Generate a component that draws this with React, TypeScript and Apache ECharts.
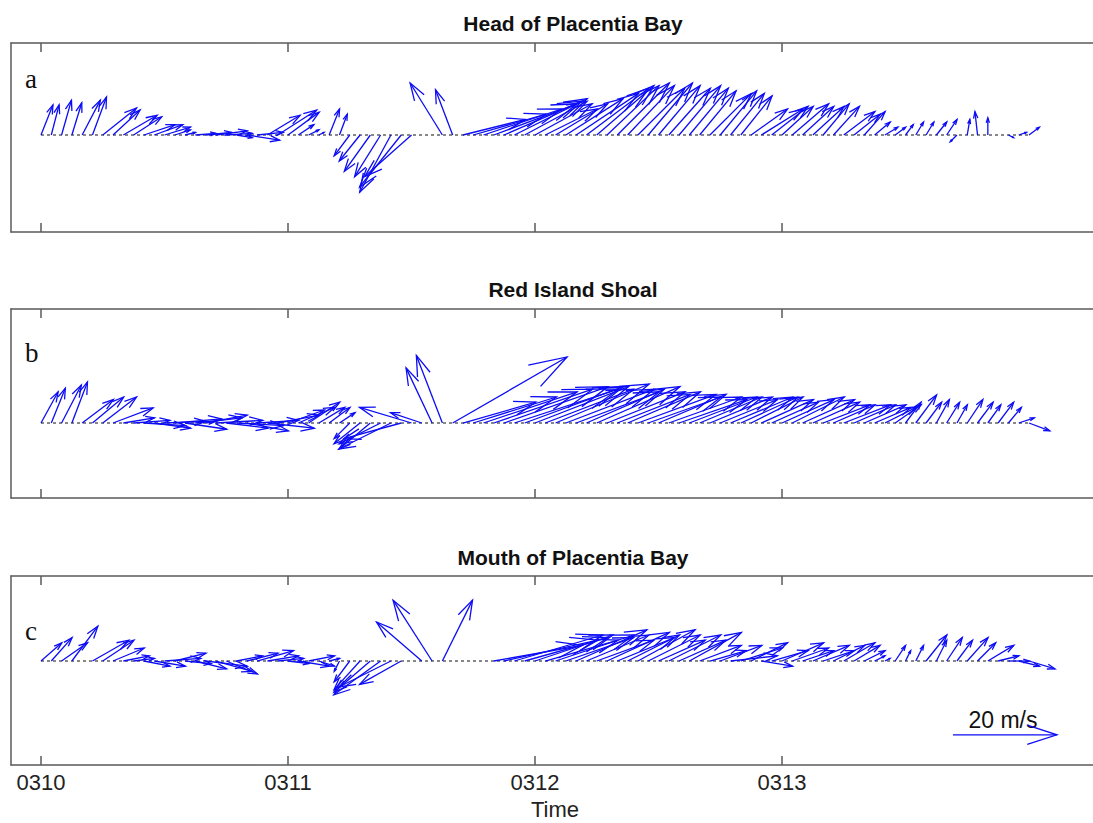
import React, { useEffect, useRef } from "react";
import * as echarts from "echarts";

// hourly samples from 0310 00:00 (hours since start)
const HOURS: number[] = Array.from({ length: 97 }, (_, i) => i);

// Panel a: Head of Placentia Bay (u east, v north, m/s)
const aU = [2.3, 1.5, 1.9, 1.9, 3.5, 2.7, 6.5, 5.2, 6.5, 5.4, 6, 5.5, 5, 3, 2, 4, 5, 6, 5, 3, 6.3, 5, 6.3, 7.5, 6, 3, 2, 1, 2, 1.5, -3, -4, -5, -5, -6, -8, -9, 0, 0, -6.2, -3.3, 12, 14, 15, 16, 15, 14, 12, 11, 10, 10, 11, 12, 12, 11, 10, 10, 9, 9, 8.5, 8, 8, 8, 7.5, 7, 8, 7, 6.5, 6, 7, 8, 7, 6, 7, 6, 6, 5, 5, 6, 5, 4, 3, 2.5, 2, 1.5, 1.5, 1.5, 2, 2, -1.3, 0.5, -0.5, 0, 0, 1, 1.5, 2];
const aV = [5.8, 5.8, 6.7, 6.2, 6.7, 7.3, 5.2, 4.8, 3.8, 3.5, 2, 2, 1.5, 1, 0.5, 0.3, 0.5, 0.8, 0.3, -0.5, -1, 0.5, 3.8, 4.8, 4.4, 2, 1, 0.5, 5, 4, -4, -5, -7, -8, -11, -10, -8, 0, 0, 10, 8.7, 3, 4, 5, 6, 6.5, 7, 6.5, 6, 5, 6, 7, 8, 9, 9.5, 9.5, 10, 9.5, 9, 10, 9.5, 9, 9.5, 9, 8.5, 8, 8.5, 8, 7.5, 5, 5, 5.5, 5.5, 6, 5.5, 5.5, 6, 5.5, 4.5, 4, 4.5, 2.5, 1.5, 1.5, 2, 2.5, 2.5, 2.5, 3, -1.3, 3, 4.5, 3.3, 0, -0.5, 0.5, 1.5];

// Panel b: Red Island Shoal
const bU = [3.3, 2.7, 3.8, 3, 6, 6, 6.5, 7.7, 6, 7, 8, 7, 8, 9, 8, 9, 8, 9, 8, 9, 8, 8, 9, 8, 7, 7, 6, 5, 4, 3, -3, -5, -6, -8, -10, -11, -10, -6, -5, -5, 22, 14, 16, 18, 19, 20, 20, 19, 18, 17, 18, 17, 16, 15, 16, 15, 14, 14, 15, 14, 13, 14, 13, 13, 12, 12, 11, 12, 11, 10, 10, 9, 10, 10, 10, 9, 9, 8, 9, 8, 8, 7, 6, 5, 3, 4, 3, 2.5, 2.5, 2, 3, 3, 2.5, 3, 2.5, 3, 4];
const bV = [6, 6.7, 7.3, 7.9, 4.5, 5, 5, 2.9, 1, 0.5, -0.5, -1, 0.3, 0.8, -1.2, 1, 1.5, 0.5, -1, -0.5, -1.5, 0.5, -1, 1.5, 2.5, 3, 4, 3, 3, 2, -3, -4, -5, -4, -5, -3, 3, 2, 10.6, 13, 12.7, 4, 5, 6, 6.5, 7, 6.5, 7, 7, 6.5, 7.5, 6.5, 6, 6.5, 7, 6, 5.5, 6, 5.5, 5, 5.5, 5, 4.5, 5, 5, 5, 4.5, 5, 5, 5, 4.5, 4, 4.5, 5, 4.5, 4, 3.5, 3.5, 3.5, 3.5, 3.5, 3, 3, 3.5, 4, 5.4, 4, 4.5, 4, 3.5, 4.5, 4, 3.5, 4, 3, 1, -1.5];

// Panel c: Mouth of Placentia Bay
const cU = [4, 4, 5, 5, 0, 7, 6, 6, 5, 4, 5, 6, 7, 6, 5, 6, 8, 7, 6, 5, 6, 7, 6, 5, 4, 6, 5, 3, 2, -1, -3, -5, -7, -9, -10, -8, 0, -8.7, -7.5, 5.8, 0, 0, 0, 0, 17, 18, 17, 16, 15, 14, 15, 13, 13.6, 12, 11, 12, 11, 10, 11, 10, 9, 10, 9, 10, 8, 7, 8, 9, 8, 7, 6, 7, 8, 7, 6, 7, 6, 6, 6, 5, 4, 2, 1, 2, 1, 1.5, 4, 2, 3, 3, 4, 3.5, 5, 4, 4, 4, 5];
const cV = [3.5, 4.5, 3.5, 6.7, 0, 4, 4, 2.5, 1, 0.5, -1, -1, 0.5, 1.5, -0.5, -1.5, -1, -2, -2.5, 1, 1.5, 2, 1, 0.5, -0.5, -1, 1, -1, 0.5, -2, -4, -5.5, -6, -6.5, -5, -4.5, 0, 7.5, 11.7, 11.7, 0, 0, 0, 0, 3, 4, 5, 4.5, 5, 4, 5, 4.5, 6, 5, 4, 5.5, 4.5, 5, 6, 5, 4, 5, 4, 5.5, 3, 2, 3, 1, 2.5, 3.5, -1, 2, 3.5, 2.5, 2, 3, 2, 3, 3.5, 3, 2, 1, 0.5, 3, 2, 3, 5, 4, 4.5, 4, 4.5, 3.5, 3, 1, 0, -1, -1.5];

const PANEL_TITLES = ["Head of Placentia Bay", "Red Island Shoal", "Mouth of Placentia Bay"];
const PANEL_LETTERS = ["a", "b", "c"];
const TICK_DAYS = [0, 1, 2, 3];
const TICK_LABELS = ["0310", "0311", "0312", "0313"];
const SCALE_SPEED = 20; // m/s reference arrow

const BLUE = "#0c0cf5";
const FRAME = "#5a5a5a";
const SANS = "'Liberation Sans', Arial, Helvetica, sans-serif";
const SERIF = "'Liberation Serif', 'Times New Roman', serif";

// layout
const GRID_LEFT = 11;
const GRID_W = 1082;
const PX_PER_DAY = 247;
const X_MIN = (GRID_LEFT - 41) / PX_PER_DAY;
const X_MAX = X_MIN + GRID_W / PX_PER_DAY;
const PX_PER_MS = 5.2;
const PANELS = [
  { top: 43, bottom: 232, base: 135 },
  { top: 309, bottom: 498, base: 423 },
  { top: 576, bottom: 765, base: 661 },
];

function renderArrow(params: any, api: any) {
  const t = api.value(0);
  const y0 = api.value(1);
  const u = api.value(2);
  const v = api.value(3);
  const p = api.coord([t, y0]);
  const k = api.size([0, 1])[1];
  const ex = p[0] + u * k;
  const ey = p[1] - v * k;
  const dx = ex - p[0];
  const dy = ey - p[1];
  const len = Math.hypot(dx, dy);
  if (len < 0.5) return { type: "group", children: [] };
  const h = 0.3 * len;
  const ang = Math.atan2(dy, dx);
  const a = (18 * Math.PI) / 180;
  const l = [ex - h * Math.cos(ang - a), ey - h * Math.sin(ang - a)];
  const r = [ex - h * Math.cos(ang + a), ey - h * Math.sin(ang + a)];
  return {
    type: "group",
    children: [
      { type: "line", shape: { x1: p[0], y1: p[1], x2: ex, y2: ey }, style: { stroke: BLUE, lineWidth: 1.3 } },
      { type: "polyline", shape: { points: [l, [ex, ey], r] }, style: { stroke: BLUE, fill: null, lineWidth: 1.3 } },
    ],
  };
}

export default function App() {
  const ref = useRef<HTMLDivElement>(null);
  useEffect(() => {
    if (!ref.current) return;
    const chart = echarts.init(ref.current, null, { renderer: "svg" });
    const us = [aU, bU, cU];
    const vs = [aV, bV, cV];

    const grids: any[] = [];
    const xAxes: any[] = [];
    const yAxes: any[] = [];
    const series: any[] = [];

    PANELS.forEach((pn, gi) => {
      grids.push({
        left: GRID_LEFT,
        top: pn.top,
        width: GRID_W,
        height: pn.bottom - pn.top,
        show: false,
      });
      const common = {
        type: "value",
        gridIndex: gi,
        min: X_MIN,
        max: X_MAX,
        axisLine: { show: true, onZero: false, lineStyle: { color: FRAME, width: 1.5 } },
        splitLine: { show: false },
        axisTick: { show: true, inside: true, length: 9, customValues: TICK_DAYS, lineStyle: { color: FRAME, width: 1.5 } },
      };
      xAxes.push({
        ...common,
        position: "bottom",
        axisLabel: {
          show: gi === 2,
          customValues: TICK_DAYS,
          formatter: (val: number) => {
            const idx = TICK_DAYS.indexOf(Math.round(val));
            return idx >= 0 ? TICK_LABELS[idx] : "";
          },
          margin: 6,
          fontSize: 22,
          lineHeight: 22,
          color: "#222",
          fontFamily: SANS,
        },
      });
      xAxes.push({ ...common, position: "top", axisLabel: { show: false } });
      yAxes.push({
        type: "value",
        gridIndex: gi,
        position: "left",
        min: -(pn.bottom - pn.base) / PX_PER_MS,
        max: (pn.base - pn.top) / PX_PER_MS,
        axisLine: { show: true, onZero: false, lineStyle: { color: FRAME, width: 1.5 } },
        axisTick: { show: false },
        axisLabel: { show: false },
        splitLine: { show: false },
      });

      const first = HOURS[0] / 24;
      const last = HOURS[HOURS.length - 1] / 24;
      series.push({
        type: "line",
        xAxisIndex: gi * 2,
        yAxisIndex: gi,
        data: [[first, 0], [last, 0]],
        symbol: "none",
        lineStyle: { color: "#111", width: 1, type: [3, 3] },
        silent: true,
        z: 1,
      });
      series.push({
        type: "custom",
        xAxisIndex: gi * 2,
        yAxisIndex: gi,
        renderItem: renderArrow,
        data: HOURS.map((h, i) => [h / 24, 0, us[gi][i], vs[gi][i]]),
        encode: { x: 0, y: 1 },
        silent: true,
        z: 2,
      });
    });

    // reference arrow in panel c
    series.push({
      type: "custom",
      xAxisIndex: 4,
      yAxisIndex: 2,
      renderItem: renderArrow,
      data: [[3.692, -14.2, SCALE_SPEED, 0]],
      encode: { x: 0, y: 1 },
      silent: true,
      z: 3,
    });

    const graphic: any[] = [];
    const titleY = [23, 289, 557];
    PANEL_TITLES.forEach((t, i) => {
      graphic.push({
        type: "text",
        x: 573,
        y: titleY[i],
        style: { text: t, font: `bold 21px ${SANS}`, fill: "#111", textAlign: "center", textVerticalAlign: "middle" },
      });
    });
    const letterPos = [[25, 79], [25, 353], [25, 631]];
    PANEL_LETTERS.forEach((l, i) => {
      graphic.push({
        type: "text",
        x: letterPos[i][0],
        y: letterPos[i][1],
        style: { text: l, font: `27px ${SERIF}`, fill: "#111", textAlign: "left", textVerticalAlign: "middle" },
      });
    });
    graphic.push({
      type: "text",
      x: 555,
      y: 809,
      style: { text: "Time", font: `22px ${SANS}`, fill: "#222", textAlign: "center", textVerticalAlign: "middle" },
    });
    graphic.push({
      type: "text",
      x: 1003,
      y: 720,
      style: { text: `${SCALE_SPEED} m/s`, font: `23px ${SANS}`, fill: "#111", textAlign: "center", textVerticalAlign: "middle" },
    });

    chart.setOption({
      animation: false,
      backgroundColor: "#fff",
      grid: grids,
      xAxis: xAxes,
      yAxis: yAxes,
      series,
      graphic,
    });
    return () => chart.dispose();
  }, []);
  return <div ref={ref} style={{ position: "absolute", left: 0, top: 0, width: 1093, height: 823 }} />;
}
